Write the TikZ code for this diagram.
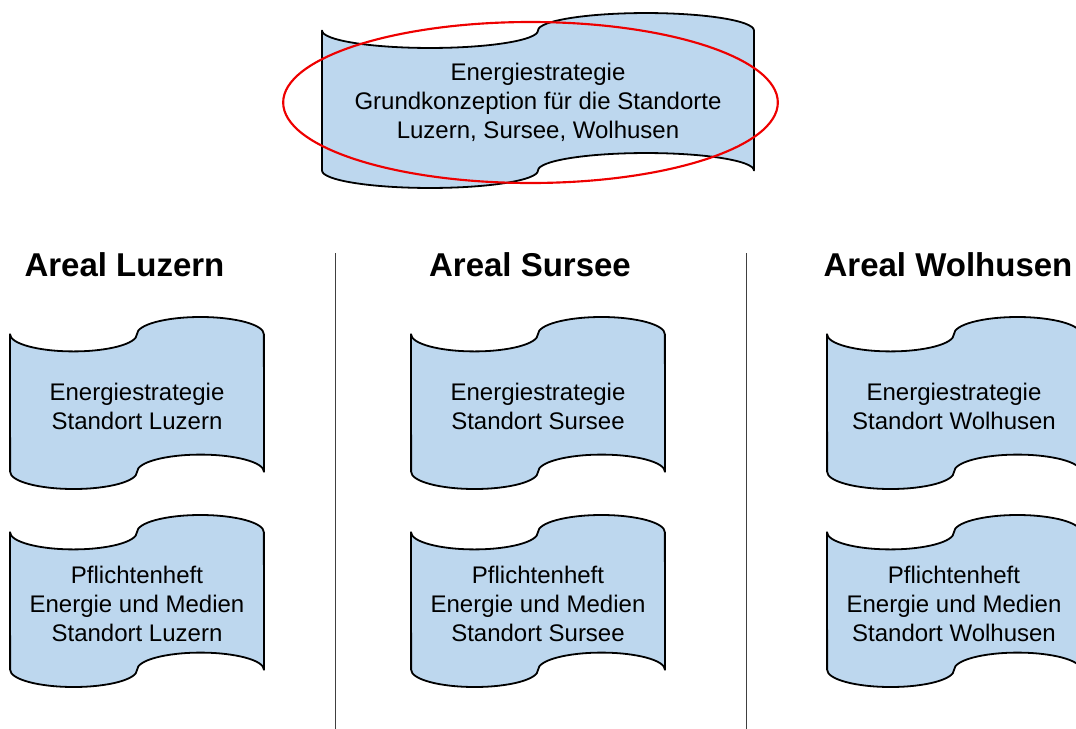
\documentclass[tikz,border=0pt]{standalone}
\usepackage{fontspec}
\setmainfont{Liberation Sans}
\usetikzlibrary{shapes.geometric}
\definecolor{tapefill}{RGB}{189,215,238}
\definecolor{markred}{RGB}{238,0,0}

\begin{document}
\begin{tikzpicture}[x=0.75pt,y=-0.75pt,
  tapebody/.style={draw=black,fill=tapefill,line width=1.35pt,line join=round},
  tapetext/.style={align=center,inner sep=0pt,font=\fontsize{18}{21.75}\selectfont},
  areal/.style={anchor=base,inner sep=0pt,font=\bfseries\fontsize{24.75}{30}\selectfont},
  divider/.style={draw=black!75,line width=0.9pt},
  smallbend/.style={x radius=47.6pt,y radius=12.9pt},
  widebend/.style={x radius=81pt,y radius=13.1pt}]
\useasboundingbox (0,0) rectangle (1076,729);
\clip (0,0) rectangle (1076,729);

% overall concept
\path[tapebody] (322,30.5) arc[start angle=180,end angle=360,widebend] arc[start angle=180,end angle=0,widebend]
  -- (754,170.5) arc[start angle=0,end angle=180,widebend] arc[start angle=0,end angle=-180,widebend] -- cycle;
\node[tapetext] (grund) at (538,102) {Energiestrategie\\Grundkonzeption für die Standorte\\Luzern, Sursee, Wolhusen};
\node[ellipse,draw=markred,line width=1.6pt,minimum width=371pt,minimum height=120.75pt,inner sep=0pt] (mark) at (530.5,102.5) {};

% one column per site
\foreach \cx/\hx/\nm/\ort in {137/124.5/lu/Luzern,538/530/su/Sursee,954/948/wo/Wolhusen}{
  \node[areal] (a\nm) at (\hx,276) {Areal \ort};
  \path[tapebody] (\cx-127,334.2) arc[start angle=180,end angle=360,smallbend] arc[start angle=180,end angle=0,smallbend]
    -- (\cx+127,471.8) arc[start angle=0,end angle=180,smallbend] arc[start angle=0,end angle=-180,smallbend] -- cycle;
  \node[tapetext] (es\nm) at (\cx,406) {Energiestrategie\\Standort \ort};
  \path[tapebody] (\cx-127,532.2) arc[start angle=180,end angle=360,smallbend] arc[start angle=180,end angle=0,smallbend]
    -- (\cx+127,669.8) arc[start angle=0,end angle=180,smallbend] arc[start angle=0,end angle=-180,smallbend] -- cycle;
  \node[tapetext] (ph\nm) at (\cx,604) {Pflichtenheft\\Energie und Medien\\Standort \ort};
}

% separators
\coordinate (d1top) at (335.5,253);
\coordinate (d1bot) at (335.5,729);
\coordinate (d2top) at (746.7,253);
\coordinate (d2bot) at (746.7,729);
\draw[divider] (d1top) -- (d1bot);
\draw[divider] (d2top) -- (d2bot);
\end{tikzpicture}
\end{document}
